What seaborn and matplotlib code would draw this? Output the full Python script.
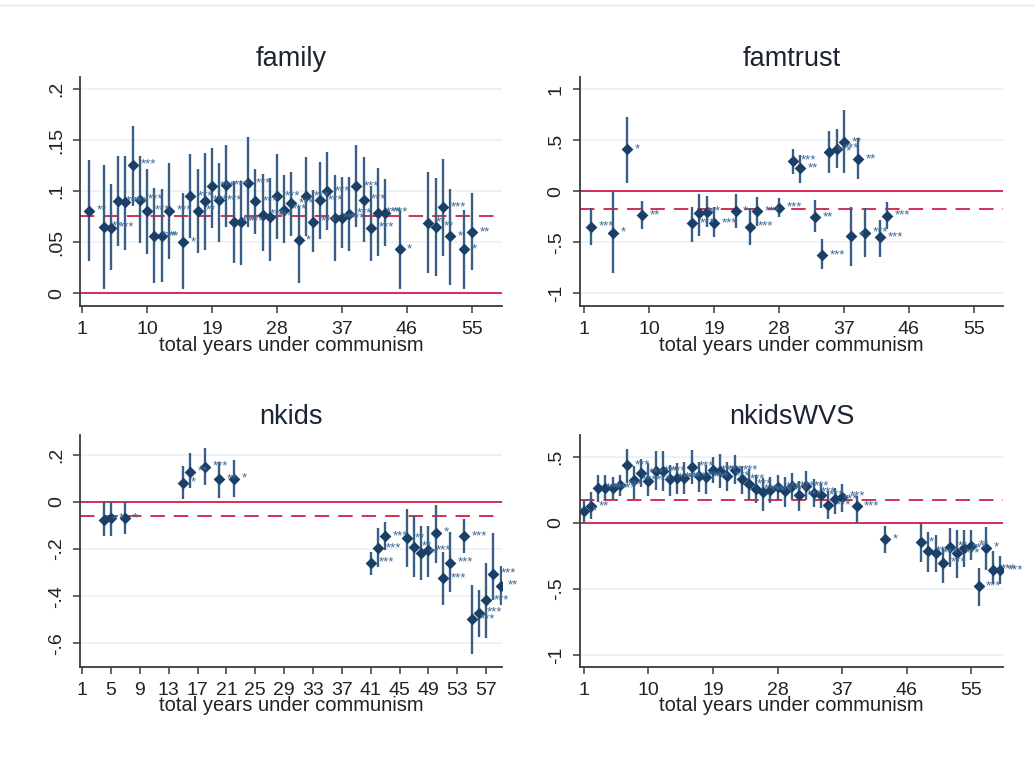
import numpy as np
import pandas as pd
import matplotlib
matplotlib.use("Agg")
import matplotlib.pyplot as plt
from matplotlib.lines import Line2D
import seaborn as sns

# ---- data: coefficient, 95% CI, significance stars ----
family_year = [2, 4, 5, 6, 7, 8, 9, 10, 11, 12, 13, 15, 16, 17, 18, 19, 20, 21, 22, 23,
               24, 25, 26, 27, 28, 29, 30, 31, 32, 33, 34, 35, 36, 37, 38, 39, 40, 41, 42, 43,
               45, 49, 50, 51, 52, 54, 55]
family_b = [.081, .065, .064, .090, .089, .126, .0915, .081, .056, .056, .081, .050, .095, .081,
            .0905, .105, .091, .106, .070, .070, .108, .090, .077, .075, .095, .082, .088, .052,
            .095, .070, .091, .100, .0735, .0735, .078, .105, .0915, .064, .079, .079, .043, .069,
            .065, .084, .056, .043, .060]
family_hi = [.130, .126, .107, .134, .134, .164, .134, .122, .103, .102, .128, .098, .136, .122,
             .137, .142, .128, .145, .110, .110, .153, .122, .117, .113, .136, .116, .119, .085,
             .133, .101, .129, .138, .116, .114, .114, .145, .133, .105, .123, .112, .082, .119,
             .113, .131, .102, .082, .098]
family_lo = [.032, .004, .023, .046, .042, .085, .049, .038, .010, .011, .034, .004, .054, .039,
             .042, .064, .050, .065, .030, .028, .065, .058, .041, .032, .053, .049, .056, .010,
             .056, .040, .053, .062, .032, .044, .041, .065, .050, .032, .036, .046, .004, .020,
             .017, .036, .008, .004, .023]
family_star = ["**", "**", "***", "***", "***", "***", "***", "***", "***", "**",
               "***", "*", "***", "**", "***", "***", "***", "***", "***", "***",
               "***", "***", "***", "***", "***", "***", "***", "*", "***", "***",
               "***", "***", "***", "***", "***", "***", "***", "***", "***", "***",
               "*", "**", "**", "***", "*", "*", "**"]

famtrust_year = [2, 5, 7, 9, 16, 17, 18, 19, 22, 24, 25, 28, 30, 31, 33, 34, 35, 36, 37, 38,
                 39, 40, 42, 43]
famtrust_b = [-.346, -.405, .412, -.232, -.314, -.209, -.200, -.314, -.193, -.346, -.193, -.160,
              .300, .225, -.255, -.624, .389, .420, .480, -.438, .314, -.405, -.451, -.239]
famtrust_hi = [-.167, 0.0, .725, -.092, -.157, -.026, -.042, -.157, -.026, -.167, -.052, -.069,
               .420, .356, -.085, -.470, .590, .610, .800, -.150, .526, -.167, -.281, -.101]
famtrust_lo = [-.526, -.804, .085, -.373, -.493, -.438, -.346, -.451, -.363, -.526, -.340, -.248,
               .167, .085, -.402, -.760, .176, .225, .176, -.732, .118, -.640, -.640, -.373]
famtrust_star = ["***", "*", "*", "**", "***", "**", "*", "***", "*", "***", "***", "***",
                 "***", "**", "**", "***", "***", "***", "**", "*", "**", "***", "***", "***"]

nkids_year = [4, 5, 7, 15, 16, 18, 20, 22, 41, 42, 43, 46, 47, 48, 49, 50, 51, 52, 54, 55,
              56, 57, 58, 59]
nkids_b = [-.077, -.070, -.070, .082, .129, .150, .096, .100, -.258, -.197, -.145, -.155,
           -.190, -.218, -.204, -.130, -.325, -.258, -.145, -.498, -.470, -.417, -.304, -.356]
nkids_hi = [0.0, 0.0, 0.0, .155, .207, .228, .169, .179, -.214, -.112, -.087, -.031,
            -.060, -.100, -.100, -.013, -.211, -.129, -.072, -.353, -.372, -.261, -.130, -.272]
nkids_lo = [-.143, -.143, -.136, .011, .058, .071, .018, .023, -.311, -.275, -.204, -.275,
            -.318, -.332, -.318, -.258, -.438, -.384, -.218, -.644, -.573, -.577, -.417, -.438]
nkids_star = ["*", "*", "*", "*", "**", "***", "**", "*", "***", "***", "***", "**",
              "**", "**", "***", "*", "***", "***", "***", "***", "***", "***", "***", "**"]

wvs_year = list(range(1, 38)) + [39, 43, 48, 49, 50, 51, 52, 53, 54, 55, 56, 57, 58, 59]
wvs_b = [.088, .126, .26, .26, .26, .285, .437, .323, .374, .318,
         .39, .39, .333, .34, .34, .424, .354, .343, .40, .394,
         .354, .40, .328, .293, .253, .235, .247, .268, .242, .278,
         .21, .278, .227, .21, .134, .18, .197,
         .126, -.124, -.146, -.215, -.232, -.303, -.182, -.232, -.194, -.174, -.48, -.19, -.354, -.359]
wvs_hi = [.17, .23, .36, .36, .35, .36, .56, .43, .48, .45,
          .54, .54, .44, .45, .46, .55, .46, .44, .50, .52,
          .46, .51, .43, .41, .36, .34, .35, .36, .35, .38,
          .32, .39, .33, .30, .24, .26, .29,
          .20, -.023, 0.0, -.068, -.093, -.194, -.043, -.056, -.056, -.056, -.346, -.03, -.215, -.253]
wvs_lo = [.0, .03, .16, .17, .17, .20, .30, .18, .27, .20,
          .25, .24, .20, .22, .22, .29, .23, .22, .30, .26,
          .24, .29, .22, .17, .15, .09, .15, .17, .12, .18,
          .09, .17, .12, .11, .03, .07, .08,
          .0, -.232, -.30, -.371, -.371, -.455, -.333, -.42, -.333, -.283, -.631, -.359, -.46, -.46]
wvs_star = ["*", "**"] + ["***"] * 35 + ["***", "*", "*", "**", "***", "***", "**", "***",
                                      "***", "**", "***", "*", "***", "***"]

# mean effect (dashed line) per outcome
means = {"family": .0755, "famtrust": -.17, "nkids": -.061, "nkidsWVS": .169}

NAVY = "#1b4068"
CI = "#3a5e84"
STAR = "#3b6a96"
RED = "#d01f47"
GRID = "#e9f1f3"
AXC = "#3a3a3a"

sns.set_theme(style="white")
plt.rcParams["font.family"] = ["Liberation Sans", "DejaVu Sans"]


def stata_fmt(v):
    s = f"{v:g}"
    return s.replace("0.", ".")


def draw_panel(ax, title, year, b, lo, hi, star, xticks, xlim, yticks, ylim):
    df = pd.DataFrame({"year": year, "b": b, "lo": lo, "hi": hi, "star": star})
    for yt in yticks:
        ax.axhline(yt, color=GRID, lw=1.2, zorder=0)
    ax.axhline(0, color=RED, lw=1.3, zorder=1)
    ax.axhline(means[title], color=RED, lw=1.3, dashes=(8, 5), zorder=1)
    ax.vlines(df["year"], df["lo"], df["hi"], color=CI, lw=1.7, zorder=2)
    sns.scatterplot(data=df, x="year", y="b", marker="D", s=36, color=NAVY,
                    edgecolor=NAVY, linewidth=0, ax=ax, zorder=3)
    for r in df.itertuples():
        ax.annotate(r.star, (r.year, r.b), xytext=(5.5, 0), textcoords="offset points",
                    fontsize=9.5, color=STAR, va="center", ha="left",
                    annotation_clip=False, zorder=4)

    ax.set_xlim(*xlim)
    ax.set_ylim(*ylim)
    ax.set_xticks(xticks)
    ax.set_xticklabels([str(t) for t in xticks])
    ax.set_yticks(yticks)
    ax.set_yticklabels([stata_fmt(t) for t in yticks], rotation=90, va="center")
    ax.tick_params(axis="both", direction="out", length=5, width=1.1, color=AXC,
                   labelsize=14, labelcolor="#222222", bottom=True, left=True)
    ax.tick_params(axis="y", pad=6)
    ax.tick_params(axis="x", pad=6)
    sns.despine(ax=ax)
    for sp in ["left", "bottom"]:
        ax.spines[sp].set_color(AXC)
        ax.spines[sp].set_linewidth(1.3)
    ax.set_xlabel("total years under communism", fontsize=14.5, color="#222222", labelpad=-2)
    ax.set_ylabel("")
    ax.set_title(title, fontsize=19.5, color="#1a2433", pad=8)


fig = plt.figure(figsize=(10.34, 7.59), dpi=100)
fig.patch.set_facecolor("white")
fig.add_artist(Line2D([0, 1], [1 - 5 / 759] * 2, color="#e4e4e4", lw=1))

ax1 = fig.add_axes([0.0774, 0.5968, 0.4081, 0.3021])
ax2 = fig.add_axes([0.5609, 0.5968, 0.4091, 0.3021])
ax3 = fig.add_axes([0.0774, 0.1216, 0.4081, 0.3053])
ax4 = fig.add_axes([0.5609, 0.1216, 0.4091, 0.3053])

ticks9 = list(range(1, 56, 9))
draw_panel(ax1, "family", family_year, family_b, family_lo, family_hi, family_star,
           ticks9, (0.7, 59.2), [0, .05, .1, .15, .2], (-0.0125, 0.212))
draw_panel(ax2, "famtrust", famtrust_year, famtrust_b, famtrust_lo, famtrust_hi, famtrust_star,
           ticks9, (0.45, 59.05), [-1, -.5, 0, .5, 1], (-1.125, 1.125))
draw_panel(ax3, "nkids", nkids_year, nkids_b, nkids_lo, nkids_hi, nkids_star,
           list(range(1, 58, 4)), (0.7, 59.2), [-.6, -.4, -.2, 0, .2], (-0.70, 0.285))
draw_panel(ax4, "nkidsWVS", wvs_year, wvs_b, wvs_lo, wvs_hi, wvs_star,
           ticks9, (0.45, 59.4), [-1, -.5, 0, .5], (-1.09, 0.665))

fig.savefig("out.png", dpi=100, facecolor="white")
